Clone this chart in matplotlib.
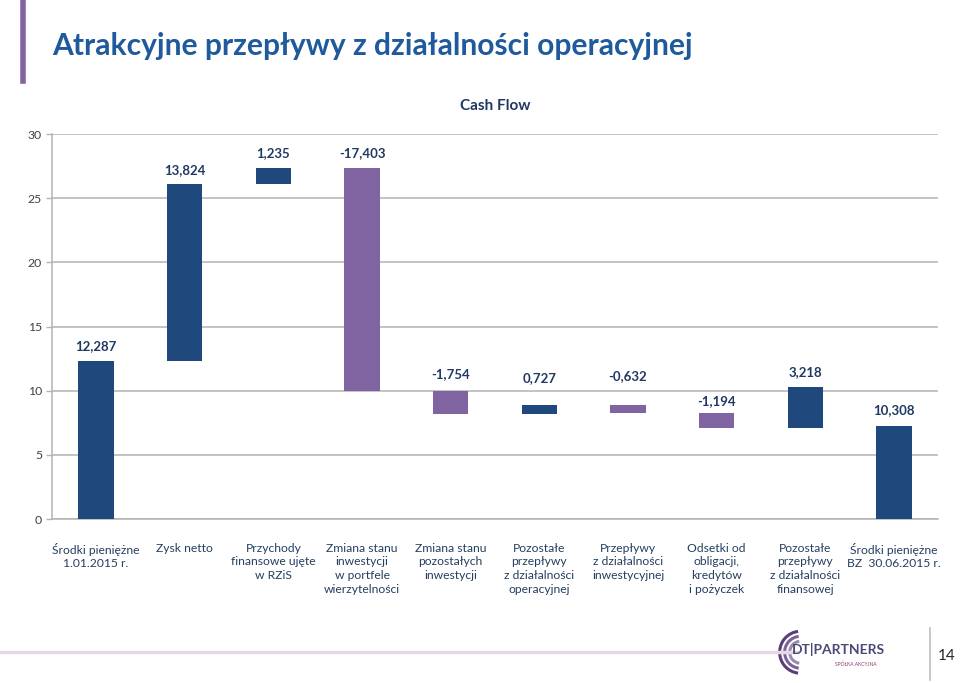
import numpy as np
import matplotlib.pyplot as plt
from matplotlib.patches import Arc
from matplotlib.lines import Line2D

plt.rcParams['font.family'] = ['Lato', 'DejaVu Sans']

# kategorie na osi X
categories = [
    "Środki pieniężne\n1.01.2015 r.",
    "Zysk netto",
    "Przychody\nfinansowe ujęte\nw RZiS",
    "Zmiana stanu\ninwestycji\nw portfele\nwierzytelności",
    "Zmiana stanu\npozostałych\ninwestycji",
    "Pozostałe\nprzepływy\nz działalności\noperacyjnej",
    "Przepływy\nz działalności\ninwestycyjnej",
    "Odsetki od\nobligacji,\nkredytów\ni pożyczek",
    "Pozostałe\nprzepływy\nz działalności\nfinansowej",
    "Środki pieniężne\nBZ  30.06.2015 r.",
]
# stan poczatkowy i zmiany (waterfall)
start_value = 12.287
changes = [13.824, 1.235, -17.403, -1.754, 0.727, -0.632, -1.194, 3.218]
# ostatni slupek - wysokosc
end_bar = 7.25
value_labels = ["12,287", "13,824", "1,235", "-17,403", "-1,754", "0,727",
                "-0,632", "-1,194", "3,218", "10,308"]
# odstep etykiety nad slupkiem (px)
label_offsets = [15, 14, 15, 15, 17, 27, 29, 12, 15, 16]

blue = '#1f497d'
purple = '#8064a2'
navy = '#1f3864'

bottoms = [0.0]
heights = [start_value]
running = start_value
for c in changes:
    bottoms.append(running if c >= 0 else running + c)
    heights.append(abs(c))
    running += c
bottoms.append(0.0)
heights.append(end_bar)
colors = [blue] + [blue if c >= 0 else purple for c in changes] + [blue]

fig = plt.figure(figsize=(9.6, 6.83), dpi=100)
ax = fig.add_axes([0.0539, 0.2401, 0.9235, 0.5637])

x = np.arange(len(categories))
ax.bar(x, heights, bottom=bottoms, width=0.4, color=colors, zorder=3)

for i in range(len(x)):
    top = bottoms[i] + heights[i]
    ax.annotate(value_labels[i], (x[i], top), xytext=(0, label_offsets[i]),
                textcoords='offset pixels', ha='center', va='center',
                fontsize=9.5, fontweight='bold', color=navy)

ax.set_xlim(-0.5, len(categories) - 0.5)
ax.set_ylim(0, 30)
ax.set_yticks([0, 5, 10, 15, 20, 25, 30])
ax.yaxis.grid(True, color='#b3b3b3', linewidth=1.1, zorder=0)
ax.set_axisbelow(True)
for s in ['top', 'right']:
    ax.spines[s].set_visible(False)
for s in ['left', 'bottom']:
    ax.spines[s].set_color('#b3b3b3')
    ax.spines[s].set_linewidth(1.1)
ax.tick_params(axis='y', length=4, width=1, color='#b3b3b3', pad=3,
               labelsize=8.8, labelcolor='#404040')
ax.set_xticks(x)
ax.set_xticklabels(categories, fontsize=8.7, color='#243f60', linespacing=1.3)
ax.tick_params(axis='x', length=0, pad=17)

ax.set_title("Cash Flow", fontsize=11, fontweight='bold', color=navy, pad=17)

# naglowek slajdu
fig.text(0.054, 0.932, "Atrakcyjne przepływy z działalności operacyjnej",
         fontsize=21.6, fontweight='bold', color='#1f5a9c', va='center', ha='left')
fig.add_artist(Line2D([0.0235, 0.0235], [0.882, 1.0], color=purple, linewidth=4))

# dolna linia ozdobna
fig.add_artist(Line2D([0.0, 0.83], [0.045, 0.045], color='#e6d6e6', linewidth=2.5))

# logo
cx, cy = 0.834, 0.045
for r, a in [(21, 1.0), (16, 0.8), (11, 0.6)]:
    fig.add_artist(Arc((cx, cy), 2 * r / 960, 2 * r / 683, theta1=95,
                       theta2=265, color='#5a3d7a', linewidth=2.2, alpha=a,
                       transform=fig.transFigure))
fig.text(0.825, cy + 0.004, "DT|PARTNERS", fontsize=10, fontweight='bold',
         color='#4a4a7a', va='center', ha='left')
fig.text(0.870, cy - 0.018, "SPÓŁKA AKCYJNA", fontsize=3.5,
         color='#8a3a6a', va='center', ha='left')
fig.add_artist(Line2D([0.969, 0.969], [0.005, 0.08], color='#bfbfbf', linewidth=1.2))
fig.text(0.986, 0.040, "14", fontsize=11, color='#262626', va='center', ha='center')

fig.savefig('out.png', dpi=100)
